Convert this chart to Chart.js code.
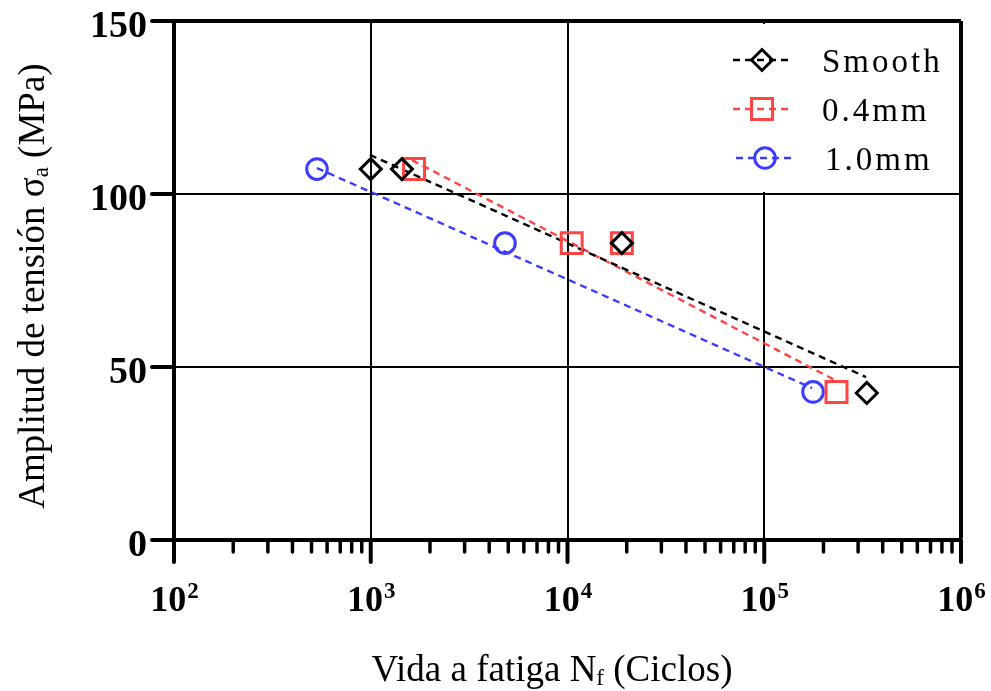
<!DOCTYPE html>
<html>
<head>
<meta charset="utf-8">
<script src="https://cdn.jsdelivr.net/npm/chart.js@4.4.0/dist/chart.umd.min.js"></script>
<style>
html,body{margin:0;padding:0;background:#fff;}
canvas{display:block;}
</style>
</head>
<body>
<canvas id="snChart" width="991" height="691"></canvas>
<script>

const serif = '"Liberation Serif", "Times New Roman", serif'

// fatigue life (cycles) and stress amplitude (MPa)
const smoothN = [1000, 1440, 18900, 332000]
const smoothS = [107.2, 107.2, 85.8, 42.5]
const mm04N = [1660, 10500, 18900, 233000]
const mm04S = [107.2, 85.8, 85.8, 42.8]
const mm10N = [533, 4810, 177000]
const mm10S = [107.2, 85.8, 42.8]

// fitted trend lines, end points
const smoothFitN = [990, 329000]
const smoothFitS = [111.3, 47.1]
const mm04FitN = [1620, 229000]
const mm04FitS = [109.8, 46.2]
const mm10FitN = [533, 175000]
const mm10FitS = [107.5, 43.9]

const xExponents = [2, 3, 4, 5, 6]
const minorSteps = [2, 3, 4, 5, 6, 7, 8, 9]
const yTicks = [0, 50, 100, 150]

const seriesNames = ["Smooth", "0.4mm", "1.0mm"]
const seriesColors = ["#000000", "#ff4444", "#3c3cff"]
const seriesStyles = ["rectRot", "rect", "circle"]
const seriesRadius = [10.5, 14.8, 10.3]

function pts(xs, ys){
return xs.map((x, i) => ({x:x, y:ys[i]}))
}

function markerSet(i, xs, ys){
return {
label:seriesNames[i],
data:pts(xs, ys),
showLine:false,
pointStyle:seriesStyles[i],
pointRadius:seriesRadius[i],
pointHoverRadius:seriesRadius[i],
pointBorderWidth:3,
borderColor:seriesColors[i],
backgroundColor:"rgba(0,0,0,0)"
}
}

function fitSet(i, xs, ys){
return {
label:seriesNames[i] + " fit",
data:pts(xs, ys),
showLine:true,
borderColor:seriesColors[i],
borderWidth:2.4,
borderDash:[7, 5],
pointRadius:0,
fill:false
}
}

function drawMarker(ctx, style, r, x, y){
ctx.beginPath()
if(style === "rectRot"){
ctx.moveTo(x - r, y)
ctx.lineTo(x, y - r)
ctx.lineTo(x + r, y)
ctx.lineTo(x, y + r)
ctx.closePath()
} else if(style === "rect"){
const h = Math.SQRT1_2 * r
ctx.rect(x - h, y - h, 2 * h, 2 * h)
} else {
ctx.arc(x, y, r, 0, Math.PI * 2)
}
ctx.stroke()
}

// text made of runs, some of them lowered as subscripts
function drawRuns(ctx, runs, x, y, size){
let cx = x
runs.forEach(r => {
const s = r.sub ? size * 0.62 : size
ctx.font = s + "px " + serif
ctx.fillText(r.t, cx, y + (r.sub ? size * 0.12 : 0))
cx += ctx.measureText(r.t).width
})
}

function runsWidth(ctx, runs, size){
let w = 0
runs.forEach(r => {
const s = r.sub ? size * 0.62 : size
ctx.font = s + "px " + serif
w += ctx.measureText(r.t).width
})
return w
}

const axesPlugin = {
id:"axesDecor",
afterDraw(chart){
const ctx = chart.ctx
const xs = chart.scales.x
const ys = chart.scales.y
const area = chart.chartArea

ctx.save()
ctx.strokeStyle = "#000"
ctx.fillStyle = "#000"
ctx.lineCap = "round"

// x tick marks: long at decades, short between
xExponents.forEach((e, k) => {
const px = xs.getPixelForValue(Math.pow(10, e))
ctx.lineWidth = 4
ctx.beginPath()
ctx.moveTo(px, area.bottom)
ctx.lineTo(px, area.bottom + 22)
ctx.stroke()
if(k < xExponents.length - 1){
minorSteps.forEach(m => {
const mx = xs.getPixelForValue(m * Math.pow(10, e))
ctx.lineWidth = 3.5
ctx.beginPath()
ctx.moveTo(mx, area.bottom)
ctx.lineTo(mx, area.bottom + 12)
ctx.stroke()
})
}
})

// y tick marks
yTicks.forEach(v => {
const py = ys.getPixelForValue(v)
ctx.lineWidth = 4
ctx.beginPath()
ctx.moveTo(area.left, py)
ctx.lineTo(area.left - 22, py)
ctx.stroke()
})

// y tick labels
ctx.font = "bold 38px " + serif
ctx.textAlign = "right"
ctx.textBaseline = "alphabetic"
yTicks.forEach(v => {
const py = ys.getPixelForValue(v)
ctx.fillText(String(v), area.left - 27, py + 16)
})

// x tick labels as 10 with a raised exponent
xExponents.forEach(e => {
const px = xs.getPixelForValue(Math.pow(10, e))
ctx.font = "bold 36px " + serif
const wBase = ctx.measureText("10").width
ctx.font = "bold 23px " + serif
const wExp = ctx.measureText(String(e)).width
const left = px - (wBase + wExp) / 2
ctx.textAlign = "left"
ctx.font = "bold 36px " + serif
ctx.fillText("10", left, area.bottom + 71)
ctx.font = "bold 23px " + serif
ctx.fillText(String(e), left + wBase + 1, area.bottom + 58)
})

// axis titles
const xRuns = [{t:"Vida a fatiga N"}, {t:"f", sub:true}, {t:" (Ciclos)"}]
const xw = runsWidth(ctx, xRuns, 37)
ctx.textAlign = "left"
drawRuns(ctx, xRuns, 552 - xw / 2, 681, 37)

const yRuns = [{t:"Amplitud de tensión σ"}, {t:"a", sub:true}, {t:" (MPa)"}]
const yw = runsWidth(ctx, yRuns, 37)
ctx.save()
ctx.translate(44, 286)
ctx.rotate(-Math.PI / 2)
drawRuns(ctx, yRuns, -yw / 2, 0, 37)
ctx.restore()

// legend box over the grid
ctx.fillStyle = "#fff"
ctx.fillRect(722, 24, 236, 168)
const rows = [60, 109, 158]
seriesNames.forEach((name, i) => {
const ry = rows[i]
const mx = i === 2 ? 765 : 762
ctx.strokeStyle = seriesColors[i]
ctx.lineCap = "butt"
ctx.lineWidth = 2.4
ctx.setLineDash([7, 5])
ctx.beginPath()
ctx.moveTo(mx - 29, ry)
ctx.lineTo(mx + 29, ry)
ctx.stroke()
ctx.setLineDash([])
ctx.lineWidth = 3
ctx.lineJoin = "miter"
drawMarker(ctx, seriesStyles[i], seriesRadius[i], mx, ry)
ctx.fillStyle = "#000"
ctx.font = "33px " + serif
ctx.letterSpacing = "3px"
ctx.textAlign = "left"
ctx.fillText(name, i === 2 ? 825 : 822, ry + 12)
ctx.letterSpacing = "0px"
ctx.fillStyle = "#fff"
})

ctx.restore()
}
}

function isDecade(v){
const l = Math.log10(v)
return Math.abs(l - Math.round(l)) < 1e-6
}

new Chart(
document.getElementById("snChart"),
{
type:"scatter",
data:{
datasets:[
markerSet(0, smoothN, smoothS),
markerSet(1, mm04N, mm04S),
markerSet(2, mm10N, mm10S),
fitSet(0, smoothFitN, smoothFitS),
fitSet(1, mm04FitN, mm04FitS),
fitSet(2, mm10FitN, mm10FitS)
]
},
options:{
responsive:false,
animation:false,
events:[],
layout:{padding:{left:174, right:30, top:21, bottom:151}},
plugins:{
legend:{display:false},
tooltip:{enabled:false}
},
scales:{
x:{
type:"logarithmic",
min:100,
max:1000000,
ticks:{display:false, autoSkip:false},
grid:{
drawTicks:false,
color:c => isDecade(c.tick.value) ? "#000" : "rgba(0,0,0,0)",
lineWidth:c => c.tick.value >= 1000000 ? 4 : 2
},
border:{width:4, color:"#000"}
},
y:{
min:0,
max:150,
ticks:{display:false, stepSize:50},
grid:{
drawTicks:false,
color:"#000",
lineWidth:c => c.tick.value >= 150 ? 4 : 2
},
border:{width:4, color:"#000"}
}
}
},
plugins:[axesPlugin]
}
)

</script>
</body>
</html>
